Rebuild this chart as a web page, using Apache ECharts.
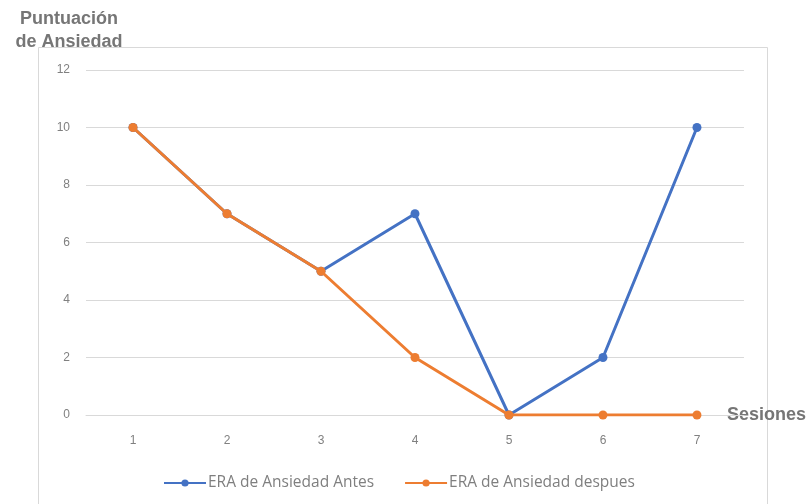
<!DOCTYPE html>
<html>
<head>
<meta charset="utf-8">
<script src="https://cdn.jsdelivr.net/npm/echarts@6/dist/echarts.min.js"></script>
<style>
  html, body { margin: 0; padding: 0; background: #fff; }
  #chart { width: 809px; height: 504px; }
</style>
</head>
<body>
<div id="chart"></div>
<script>
// Sessions and anxiety scores (ERA) before and after each session
const sesiones = ['1', '2', '3', '4', '5', '6', '7'];
const eraAntes = [10, 7, 5, 7, 0, 2, 10];
const eraDespues = [10, 7, 5, 2, 0, 0, 0];
const yTicks = [0, 2, 4, 6, 8, 10, 12];

const chart = echarts.init(document.getElementById('chart'), null, { renderer: 'canvas' });

const labelGray = '#808080';
const nameGray = '#767676';

chart.setOption({
  backgroundColor: '#ffffff',
  animation: false,
  graphic: [{
    type: 'rect',
    shape: { x: 38.5, y: 47.5, width: 729, height: 480 },
    style: { fill: 'none', stroke: '#d9d9d9', lineWidth: 1 },
    silent: true,
    z: 0
  }],
  grid: { left: 86, right: 65, top: 70, bottom: 89 },
  legend: {
    bottom: 8,
    left: 158,
    itemWidth: 42,
    itemHeight: 9,
    itemGap: 30,
    textStyle: { color: '#7f7f7f', fontFamily: 'Open Sans', fontSize: 15.5, padding: [0, 0, 0, -3] },
    data: ['ERA de Ansiedad Antes', 'ERA de Ansiedad despues']
  },
  xAxis: {
    type: 'category',
    data: sesiones,
    boundaryGap: true,
    name: 'Sesiones',
    nameLocation: 'end',
    nameGap: -17,
    nameTextStyle: { color: nameGray, fontFamily: 'Liberation Sans', fontWeight: 'bold', fontSize: 18, align: 'left', verticalAlign: 'middle' },
    axisLine: { show: true, lineStyle: { color: '#d9d9d9', width: 1 } },
    axisTick: { show: false },
    axisLabel: { color: labelGray, fontFamily: 'Liberation Sans', fontSize: 12, margin: 20 },
    splitLine: { show: false }
  },
  yAxis: {
    type: 'value',
    min: yTicks[0],
    max: yTicks[yTicks.length - 1],
    interval: 2,
    name: 'Puntuación\nde Ansiedad',
    nameLocation: 'end',
    nameGap: 16,
    nameTextStyle: { color: nameGray, fontFamily: 'Liberation Sans', fontWeight: 'bold', fontSize: 18, lineHeight: 23, align: 'center', padding: [0, 34, 0, 0] },
    axisLine: { show: false },
    axisTick: { show: false },
    axisLabel: { color: labelGray, fontFamily: 'Liberation Sans', fontSize: 12, margin: 16 },
    splitLine: { show: true, lineStyle: { color: '#d9d9d9', width: 1 } }
  },
  series: [
    {
      name: 'ERA de Ansiedad Antes',
      type: 'line',
      data: eraAntes,
      color: '#4472c4',
      symbol: 'circle',
      symbolSize: 9,
      lineStyle: { width: 3 },
      itemStyle: { color: '#4472c4' },
      z: 2
    },
    {
      name: 'ERA de Ansiedad despues',
      type: 'line',
      data: eraDespues,
      color: '#ed7d31',
      symbol: 'circle',
      symbolSize: 9,
      lineStyle: { width: 3 },
      itemStyle: { color: '#ed7d31' },
      z: 3
    }
  ]
});
</script>
</body>
</html>
